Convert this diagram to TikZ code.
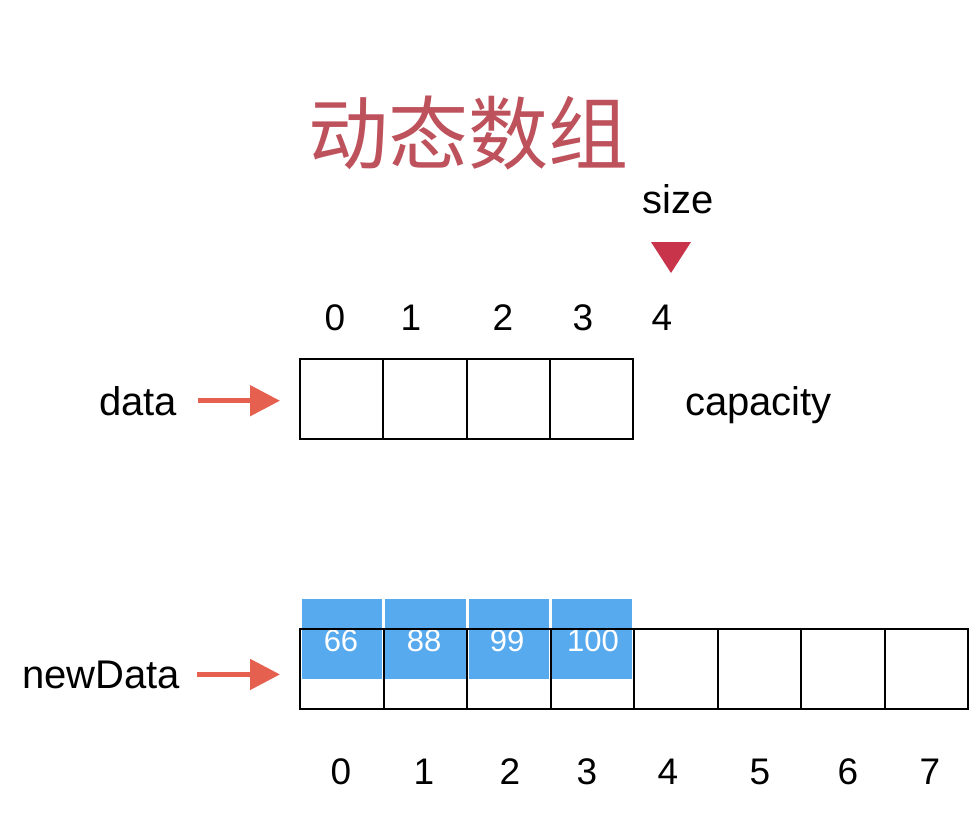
\documentclass[tikz,border=0pt]{standalone}
\usepackage{fontspec}
\setmainfont{Liberation Sans}
\newfontfamily\cjk{Noto Sans CJK SC}
\usetikzlibrary{arrows.meta}
\definecolor{titlered}{RGB}{190,82,92}
\definecolor{arrowred}{RGB}{229,96,78}
\definecolor{markred}{RGB}{200,52,74}
\definecolor{cellblue}{RGB}{88,170,238}
\begin{document}
\begin{tikzpicture}[x=1pt,y=-1pt,
  cell/.style={draw=black, line width=2pt, minimum height=80pt, inner sep=0pt, anchor=north west},
  topcell/.style={cell, minimum width=83.25pt},
  botcell/.style={cell, minimum width=83.5pt},
  bluecell/.style={fill=cellblue, draw=none, minimum width=80.5pt, minimum height=80pt, inner sep=0pt, anchor=north west},
  val/.style={text=white, font=\fontsize{31}{33}\selectfont, inner sep=0pt},
  idx/.style={font=\fontsize{37}{40}\selectfont, inner sep=0pt},
  word/.style={font=\fontsize{40}{44}\selectfont, inner sep=0pt, anchor=base west},
  redarrow/.style={draw=arrowred, line width=5pt, -{Triangle[length=30pt,width=30pt]}}
]
\useasboundingbox[fill=white] (0,0) rectangle (974,816);

% title
\node[text=titlered, font=\fontsize{80}{90}\selectfont\cjk, inner sep=0pt] (title) at (468,133) {动态数组};

% size marker
\node[word] (size) at (642,213) {size};
\fill[markred] (651,242) -- (691,242) -- (671,273) -- cycle;

% top indices
\node[idx] (t0) at (335,318) {0};
\node[idx] (t1) at (411,318) {1};
\node[idx] (t2) at (503,318) {2};
\node[idx] (t3) at (583,318) {3};
\node[idx] (t4) at (662,318) {4};

% data array
\foreach \i in {0,...,3}
  \node[topcell] (a\i) at (299+83.25*\i,358) {};

\node[word] (data) at (99,415) {data};
\node[word] (capacity) at (685,415) {capacity};
\draw[redarrow, shorten <=21pt, shorten >=19pt] (data.east) -- (data.east -| a0.west);

% blue copied values
\foreach \i in {0,...,3}
  \node[bluecell] (b\i) at (301.5+83.4*\i,599) {};
\node[val] (v0) at (341,641) {66};
\node[val] (v1) at (424,641) {88};
\node[val] (v2) at (507,641) {99};
\node[val] (v3) at (593,641) {100};

% newData array
\foreach \i in {0,...,7}
  \node[botcell] (c\i) at (299+83.5*\i,628) {};

\node[word] (newdata) at (22,688) {newData};
\draw[redarrow, shorten <=17pt, shorten >=19pt] (newdata.east) -- (newdata.east -| c0.west);

% bottom indices
\node[idx] (n0) at (341,772) {0};
\node[idx] (n1) at (424,772) {1};
\node[idx] (n2) at (510,772) {2};
\node[idx] (n3) at (587,772) {3};
\node[idx] (n4) at (668,772) {4};
\node[idx] (n5) at (760,772) {5};
\node[idx] (n6) at (848,772) {6};
\node[idx] (n7) at (930,772) {7};
\end{tikzpicture}
\end{document}
